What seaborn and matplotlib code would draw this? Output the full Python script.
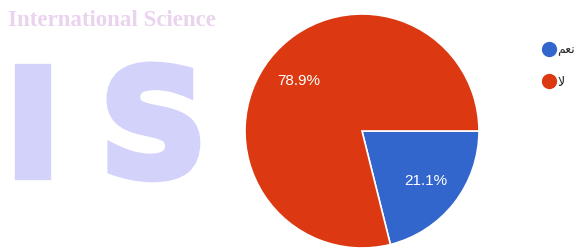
import numpy as np
import seaborn as sns
import matplotlib.pyplot as plt
import matplotlib.patheffects as pe
from matplotlib.lines import Line2D

sns.set_style("white")
plt.rcParams['font.family'] = ['Liberation Sans', 'DejaVu Sans']

# data
answers = ['نعم', 'لا']
shares = [21.1, 78.9]
colors = ['#3366cc', '#dc3912']

W, H = 576, 252

# arabic letters in their joined forms (iso, final, initial, medial)
forms = {'ن': (0xFEE5, 0xFEE6, 0xFEE7, 0xFEE8),
         'ع': (0xFEC9, 0xFECA, 0xFECB, 0xFECC),
         'م': (0xFEE1, 0xFEE2, 0xFEE3, 0xFEE4)}

def shape(word):
    # matplotlib has no bidi/shaping, so build the visual string by hand
    if word == 'لا':
        return '\ufefb'
    out = []
    n = len(word)
    for i, c in enumerate(word):
        iso, fin, ini, med = forms[c]
        if n == 1:
            f = iso
        elif i == 0:
            f = ini
        elif i == n - 1:
            f = fin
        else:
            f = med
        out.append(chr(f))
    return ''.join(reversed(out))

fig = plt.figure(figsize=(W / 100, H / 100), dpi=100)

# watermark behind the chart
wm = '#d2d2fa'
fat = [pe.withStroke(linewidth=6, foreground=wm, joinstyle='miter')]
fig.text(8 / W, 1 - 26 / H, 'International Science', color='#ead3ee',
         fontsize=16.5, fontweight='bold', family='Liberation Serif', zorder=0)
fig.text(5 / W, 1 - 176 / H, 'I', color=wm, fontsize=107, fontweight='bold',
         family='DejaVu Sans', zorder=0, path_effects=fat)
fig.text(100 / W, 1 - 176 / H, 'S', color=wm, fontsize=107, fontweight='bold',
         family='DejaVu Sans', zorder=0, path_effects=fat)

# pie
cx, cy, r = 362, 131, 117
ax = fig.add_axes([(cx - r) / W, (H - cy - r) / H, 2 * r / W, 2 * r / H])
ax.patch.set_alpha(0)
wedges, texts, autotexts = ax.pie(shares, colors=colors, startangle=0, counterclock=False,
                                  autopct='%1.1f%%', pctdistance=0.69, radius=1,
                                  wedgeprops=dict(edgecolor='white', linewidth=1.2))
for t in autotexts:
    t.set_color('white')
    t.set_fontsize(11)
ax.set_xlim(-1, 1)
ax.set_ylim(-1, 1)
ax.set_aspect('equal')

handles = [Line2D([], [], marker='o', ls='', color=c, markersize=10) for c in colors]
fig.legend(handles, [shape(a) for a in answers], loc='upper left',
           bbox_to_anchor=(535 / W, 1 - 37 / H), frameon=False,
           handletextpad=0.1, labelspacing=1.55, handlelength=1.2, borderpad=0,
           prop={'family': 'DejaVu Sans', 'size': 9})

fig.savefig('out.png', dpi=100)
